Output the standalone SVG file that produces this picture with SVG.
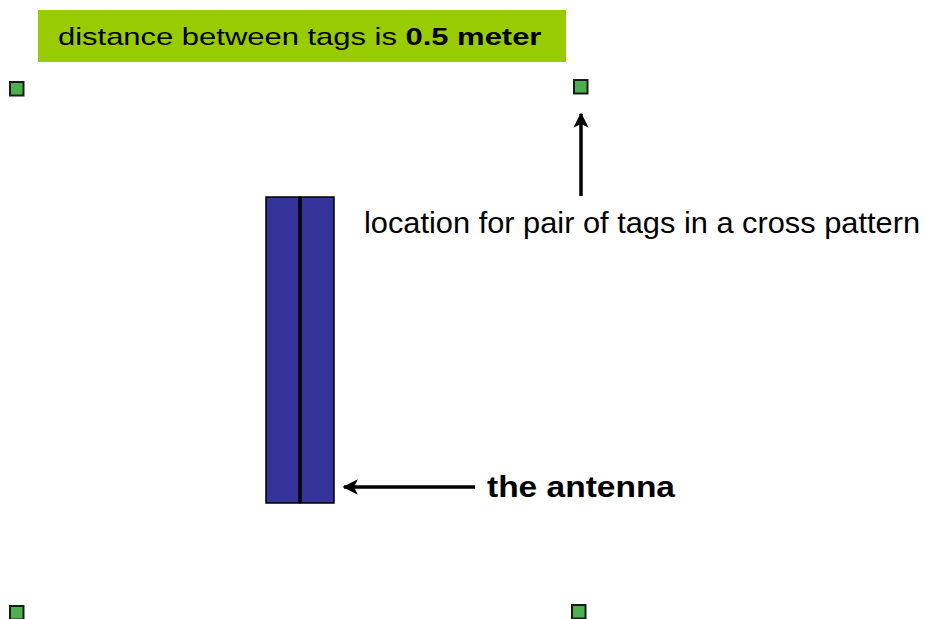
<svg xmlns="http://www.w3.org/2000/svg" width="925" height="619" viewBox="0 0 925 619">
  <defs>
    <style>
      .label { font-family: "Liberation Sans", Arial, sans-serif; fill: #000; }
      .tag { fill: #4CB050; stroke: #1a1a1a; stroke-width: 2; }
      .bar { fill: #333399; stroke: #000; stroke-width: 1.5; }
      .conn { stroke: #000; stroke-width: 3.5; fill: none; }
    </style>
    <marker id="head" viewBox="0 0 10 10" refX="9" refY="5" markerWidth="4.4" markerHeight="4.4" orient="auto" markerUnits="strokeWidth">
      <path d="M0,0 L10,5 L0,10 L2.5,5 Z" fill="#000"/>
    </marker>
  </defs>
  <rect width="925" height="619" fill="#fff"/>

  <!-- title banner -->
  <g id="banner">
    <rect x="38" y="10" width="528" height="52" fill="#99CC00"/>
    <text class="label" font-size="24" transform="translate(58,45) scale(1.29,1)">distance between tags is <tspan font-weight="bold">0.5 meter</tspan></text>
  </g>

  <!-- tag locations -->
  <g id="tag-top-left"><rect class="tag" x="10" y="82" width="13.5" height="13.5"/></g>
  <g id="tag-top-right"><rect class="tag" x="574" y="80" width="13.5" height="13.5"/></g>
  <g id="tag-bottom-left"><rect class="tag" x="10" y="606" width="13.5" height="13.5"/></g>
  <g id="tag-bottom-right"><rect class="tag" x="572" y="605" width="13.5" height="13.5"/></g>

  <!-- antenna: two panels side by side -->
  <g id="antenna">
    <rect class="bar" x="266" y="197" width="34" height="306"/>
    <rect class="bar" x="300" y="197" width="34" height="306"/>
    <line x1="300" y1="197" x2="300" y2="503" stroke="#000" stroke-width="3.5"/>
  </g>

  <g id="tag-note">
    <text class="label" font-size="29" x="364" y="233" textLength="556" lengthAdjust="spacingAndGlyphs">location for pair of tags in a cross pattern</text>
  </g>

  <g id="antenna-note">
    <text class="label" font-size="29" font-weight="bold" x="487" y="497" textLength="188" lengthAdjust="spacingAndGlyphs">the antenna</text>
  </g>

  <!-- connectors -->
  <g id="connectors">
    <line class="conn" x1="581" y1="196" x2="581" y2="114" marker-end="url(#head)"/>
    <line class="conn" x1="475" y1="487" x2="344" y2="487" marker-end="url(#head)"/>
  </g>
</svg>
